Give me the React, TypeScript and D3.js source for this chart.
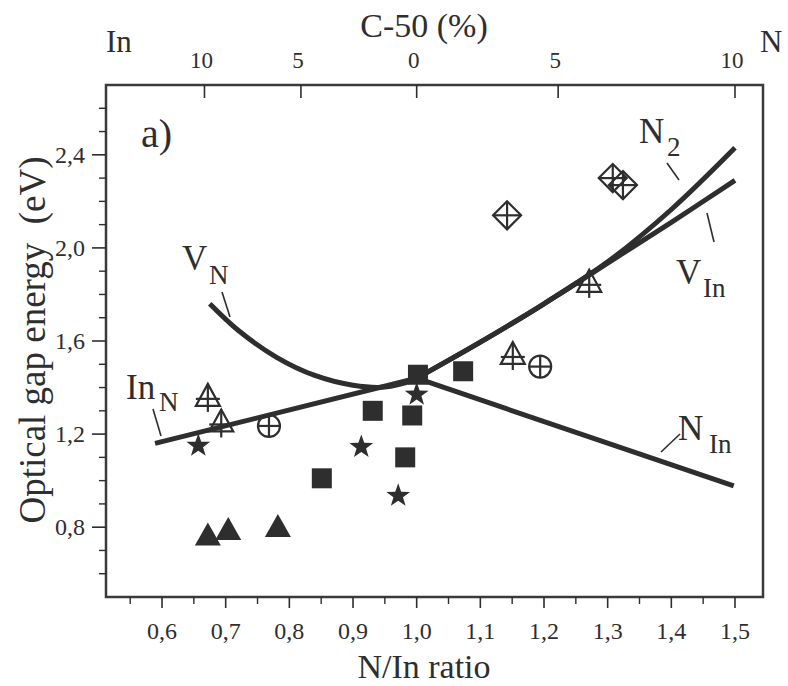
import React from "react";
import * as d3 from "d3";

// N/In ratio (x) vs optical gap energy in eV (y)
const squares: [number, number][] = [
  [0.851, 1.01], [0.931, 1.30], [0.982, 1.10], [0.993, 1.28], [1.002, 1.455], [1.073, 1.47],
];
const stars: [number, number][] = [
  [0.657, 1.15], [0.913, 1.145], [0.971, 0.935], [1.0, 1.37],
];
const triangles: [number, number][] = [
  [0.672, 0.76], [0.704, 0.784], [0.782, 0.797],
];
const crossTriangles: [number, number][] = [
  [0.672, 1.36], [0.693, 1.25], [1.151, 1.54], [1.271, 1.85],
];
const circlePlus: [number, number][] = [
  [0.768, 1.235], [1.194, 1.49],
];
const diamondPlus: [number, number][] = [
  [1.142, 2.14], [1.308, 2.30], [1.324, 2.27],
];

// Defect model curves
const curveInN: [number, number][] = [[0.589, 1.16], [1.0, 1.44]];
const curveVN: [number, number][] = [
  [0.675, 1.76], [0.72, 1.645], [0.78, 1.53], [0.84, 1.452], [0.9, 1.41],
  [0.95, 1.402], [1.0, 1.435],
];
const curveNIn: [number, number][] = [[1.0, 1.44], [1.498, 0.977]];
const curveN2: [number, number][] = [
  [1.0, 1.44], [1.1, 1.595], [1.2, 1.76], [1.3, 1.94], [1.4, 2.165], [1.5, 2.43],
];
const curveVIn: [number, number][] = [
  [1.0, 1.44], [1.1, 1.595], [1.2, 1.76], [1.3, 1.935], [1.4, 2.11], [1.5, 2.29],
];

// Axis ticks
const xMajorTicks = [0.6, 0.7, 0.8, 0.9, 1.0, 1.1, 1.2, 1.3, 1.4, 1.5];
const xTickLabels = ["0,6", "0,7", "0,8", "0,9", "1,0", "1,1", "1,2", "1,3", "1,4", "1,5"];
const xMinorTicks = [0.55, 0.65, 0.75, 0.85, 0.95, 1.05, 1.15, 1.25, 1.35, 1.45];
const yMajorTicks = [0.8, 1.2, 1.6, 2.0, 2.4];
const yTickLabels = ["0,8", "1,2", "1,6", "2,0", "2,4"];
const yMinorTicks = [0.6, 0.7, 0.9, 1.0, 1.1, 1.3, 1.4, 1.5, 1.7, 1.8, 1.9, 2.1, 2.2, 2.3, 2.5, 2.6];
// C-50 deviation (%) on the top axis; negative = In-rich side
const topTicks = [-10, -5, 0, 5, 10];

const W = 788;
const H = 686;
const LEFT = 106, RIGHT = 763, TOP = 85, BOTTOM = 597;
const INK = "#2e2e2e";
const FONT = "'Liberation Serif', 'Times New Roman', serif";

const x = d3.scaleLinear().domain([0.512, 1.544]).range([LEFT, RIGHT]);
const y = d3.scaleLinear().domain([0.5, 2.7]).range([BOTTOM, TOP]);

const smooth = d3
  .line<[number, number]>()
  .x((d) => x(d[0]))
  .y((d) => y(d[1]))
  .curve(d3.curveCatmullRom.alpha(0.5));

function starPath(R: number): string {
  const r = R * 0.4;
  const pts: string[] = [];
  for (let i = 0; i < 10; i++) {
    const a = (Math.PI / 5) * i - Math.PI / 2;
    const rad = i % 2 === 0 ? R : r;
    pts.push(`${(rad * Math.cos(a)).toFixed(2)},${(rad * Math.sin(a)).toFixed(2)}`);
  }
  return "M" + pts.join("L") + "Z";
}

export default function App() {
  const open = { fill: "none", stroke: INK, strokeWidth: 2.2 };
  return (
    <svg
      width={W}
      height={H}
      style={{ position: "absolute", left: 0, top: 0, background: "#fff" }}
      fontFamily={FONT}
    >
      <rect width={W} height={H} fill="#fff" />

      {/* frame */}
      <rect
        x={LEFT}
        y={TOP}
        width={RIGHT - LEFT}
        height={BOTTOM - TOP}
        fill="none"
        stroke="#3a3a3a"
        strokeWidth={2.5}
      />

      {/* bottom axis */}
      {xMajorTicks.map((t, i) => (
        <g key={"xm" + i}>
          <line x1={x(t)} x2={x(t)} y1={BOTTOM} y2={BOTTOM + 11} stroke={INK} strokeWidth={1.6} />
          <text x={x(t)} y={639} textAnchor="middle" fontSize={24} fill={INK}>
            {xTickLabels[i]}
          </text>
        </g>
      ))}
      {xMinorTicks.map((t, i) => (
        <line key={"xn" + i} x1={x(t)} x2={x(t)} y1={BOTTOM} y2={BOTTOM + 7} stroke={INK} strokeWidth={1.4} />
      ))}
      <text x={424} y={678} textAnchor="middle" fontSize={34} fill={INK}>
        N/In ratio
      </text>

      {/* left axis */}
      {yMajorTicks.map((t, i) => (
        <g key={"ym" + i}>
          <line x1={LEFT - 14} x2={LEFT} y1={y(t)} y2={y(t)} stroke={INK} strokeWidth={1.6} />
          <text x={85} y={y(t) + 8} textAnchor="end" fontSize={24} fill={INK}>
            {yTickLabels[i]}
          </text>
        </g>
      ))}
      {yMinorTicks.map((t, i) => (
        <line key={"yn" + i} x1={LEFT - 7} x2={LEFT} y1={y(t)} y2={y(t)} stroke={INK} strokeWidth={1.4} />
      ))}
      <text
        transform={`translate(45,340) rotate(-90)`}
        textAnchor="middle"
        fontSize={37}
        fill={INK}
        style={{ whiteSpace: "pre" }}
      >
        {"Optical gap energy  (eV)"}
      </text>

      {/* top axis: C-50 (%) */}
      {topTicks.map((c, i) => {
        const px = x((50 + c) / (50 - c));
        return (
          <g key={"tt" + i}>
            <line x1={px} x2={px} y1={TOP} y2={TOP + 13} stroke={INK} strokeWidth={1.6} />
            <text x={px - 3} y={68} textAnchor="middle" fontSize={23} fill={INK}>
              {Math.abs(c)}
            </text>
          </g>
        );
      })}
      <text x={424} y={37} textAnchor="middle" fontSize={34} fill={INK}>
        C-50 (%)
      </text>
      <text x={106} y={52} fontSize={31} fill={INK}>In</text>
      <text x={760} y={52} fontSize={31} fill={INK}>N</text>

      {/* panel label */}
      <text x={141} y={147} fontSize={40} fill={INK}>a)</text>

      {/* model curves */}
      {[curveInN, curveVN, curveNIn, curveN2, curveVIn].map((c, i) => (
        <path key={"c" + i} d={smooth(c) || ""} fill="none" stroke={INK} strokeWidth={5} strokeLinecap="butt" />
      ))}

      {/* curve labels with leader lines */}
      <g fill={INK} stroke="none">
        <text x={182} y={270} fontSize={35}>V</text>
        <text x={209} y={284} fontSize={27}>N</text>
        <text x={126} y={399} fontSize={35}>In</text>
        <text x={159} y={411} fontSize={27}>N</text>
        <text x={639} y={143} fontSize={35}>N</text>
        <text x={667} y={156} fontSize={27}>2</text>
        <text x={676} y={284} fontSize={35}>V</text>
        <text x={703} y={297} fontSize={27}>In</text>
        <text x={678} y={440} fontSize={35}>N</text>
        <text x={709} y={453} fontSize={27}>In</text>
      </g>
      <g stroke={INK} strokeWidth={1.6}>
        <line x1={222} y1={292} x2={230} y2={317} />
        <line x1={153} y1={409} x2={161} y2={436} />
        <line x1={667} y1={163} x2={679} y2={180} />
        <line x1={707} y1={213} x2={714} y2={242} />
        <line x1={661} y1={452} x2={680} y2={434} />
      </g>

      {/* markers */}
      {squares.map((d, i) => (
        <rect key={"sq" + i} x={x(d[0]) - 10} y={y(d[1]) - 10} width={20} height={20} fill={INK} />
      ))}
      {stars.map((d, i) => (
        <path key={"st" + i} d={starPath(12.5)} transform={`translate(${x(d[0])},${y(d[1])})`} fill={INK} />
      ))}
      {triangles.map((d, i) => (
        <path
          key={"tr" + i}
          d="M0,-14L13,9L-13,9Z"
          transform={`translate(${x(d[0])},${y(d[1])})`}
          fill={INK}
        />
      ))}
      {crossTriangles.map((d, i) => (
        <g key={"ct" + i} transform={`translate(${x(d[0])},${y(d[1])})`} {...open}>
          <path d="M0,-13L12,9L-12,9Z" />
          <line x1={0} y1={-13} x2={0} y2={15} />
          <line x1={-12} y1={2} x2={12} y2={2} />
        </g>
      ))}
      {circlePlus.map((d, i) => (
        <g key={"cp" + i} transform={`translate(${x(d[0])},${y(d[1])})`} {...open}>
          <circle r={11} />
          <line x1={-11} y1={0} x2={11} y2={0} />
          <line x1={0} y1={-11} x2={0} y2={11} />
        </g>
      ))}
      {diamondPlus.map((d, i) => (
        <g key={"dp" + i} transform={`translate(${x(d[0])},${y(d[1])})`} {...open}>
          <path d="M0,-14L14,0L0,14L-14,0Z" />
          <line x1={-14} y1={0} x2={14} y2={0} />
          <line x1={0} y1={-14} x2={0} y2={14} />
        </g>
      ))}
    </svg>
  );
}
